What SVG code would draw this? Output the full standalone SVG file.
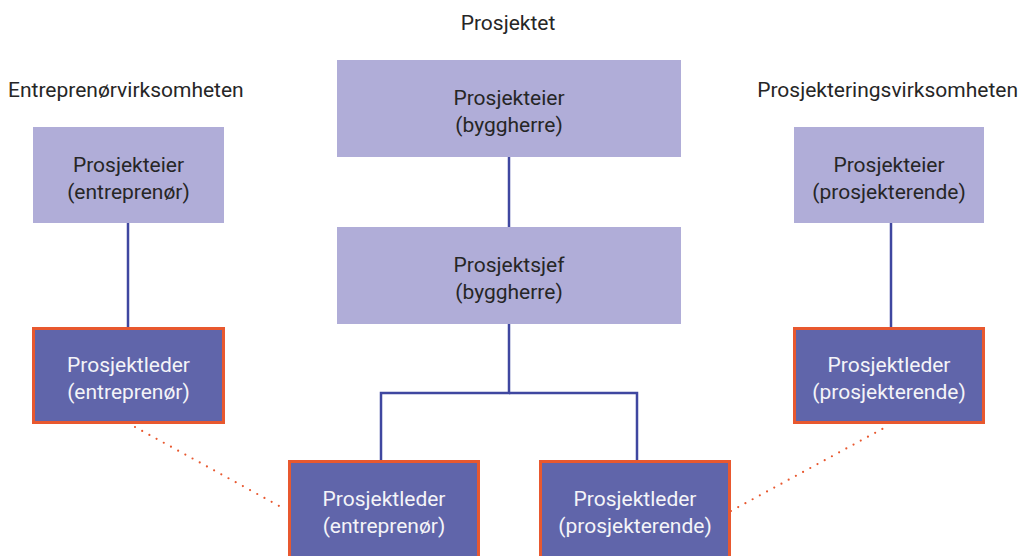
<svg xmlns="http://www.w3.org/2000/svg" width="1023" height="556" viewBox="0 0 1023 556">
<style>
text{font-family:Roboto,"Liberation Sans",sans-serif;font-size:21px;text-anchor:middle}
.lt{fill:#B0ADD8}
.dk{fill:#6065AA;stroke:#E8582F;stroke-width:3}
.t1{fill:#262626}
.t2{fill:#F4F4F8}
.hd{fill:#262626}
.ln{stroke:#3F47A0;stroke-width:2.5;fill:none}
.dot{stroke:#E8582F;stroke-width:2.2;fill:none;stroke-linecap:round;stroke-dasharray:0 8.2}
</style>
<rect width="1023" height="556" fill="#ffffff"/>
<g id="headings">
<text class="hd" x="508" y="30">Prosjektet</text>
<text class="hd" x="8" y="97" style="text-anchor:start">Entreprenørvirksomheten</text>
<text class="hd" x="1018" y="97" style="text-anchor:end">Prosjekteringsvirksomheten</text>
</g>
<g id="connectors">
<line class="ln" x1="128" y1="223" x2="128" y2="327"/>
<line class="ln" x1="891" y1="223" x2="891" y2="327"/>
<line class="ln" x1="509" y1="157" x2="509" y2="227"/>
<polyline class="ln" points="509,324 509,393 381,393 381,460"/>
<polyline class="ln" points="509,393 637,393 637,460"/>
<line class="dot" x1="135" y1="427" x2="281" y2="507"/>
<line class="dot" x1="731" y1="511" x2="884" y2="428"/>
</g>
<g id="n1">
<rect class="lt" x="33" y="127" width="191" height="96"/>
<text class="t1" x="128.5" y="172">Prosjekteier</text>
<text class="t1" x="128.5" y="199">(entreprenør)</text>
</g>
<g id="n2">
<rect class="dk" x="33.5" y="328.5" width="190" height="94"/>
<text class="t2" x="128.5" y="372">Prosjektleder</text>
<text class="t2" x="128.5" y="399">(entreprenør)</text>
</g>
<g id="n3">
<rect class="lt" x="337" y="60" width="344" height="97"/>
<text class="t1" x="509" y="105">Prosjekteier</text>
<text class="t1" x="509" y="132">(byggherre)</text>
</g>
<g id="n4">
<rect class="lt" x="337" y="227" width="344" height="97"/>
<text class="t1" x="509" y="272">Prosjektsjef</text>
<text class="t1" x="509" y="299">(byggherre)</text>
</g>
<g id="n5">
<rect class="dk" x="289.5" y="461.5" width="189" height="96"/>
<text class="t2" x="384" y="506">Prosjektleder</text>
<text class="t2" x="384" y="533">(entreprenør)</text>
</g>
<g id="n6">
<rect class="dk" x="540.5" y="461.5" width="189" height="96"/>
<text class="t2" x="635" y="506">Prosjektleder</text>
<text class="t2" x="635" y="533">(prosjekterende)</text>
</g>
<g id="n7">
<rect class="lt" x="794" y="127" width="190" height="96"/>
<text class="t1" x="889" y="172">Prosjekteier</text>
<text class="t1" x="889" y="199">(prosjekterende)</text>
</g>
<g id="n8">
<rect class="dk" x="794.5" y="328.5" width="189" height="94"/>
<text class="t2" x="889" y="372">Prosjektleder</text>
<text class="t2" x="889" y="399">(prosjekterende)</text>
</g>
</svg>
